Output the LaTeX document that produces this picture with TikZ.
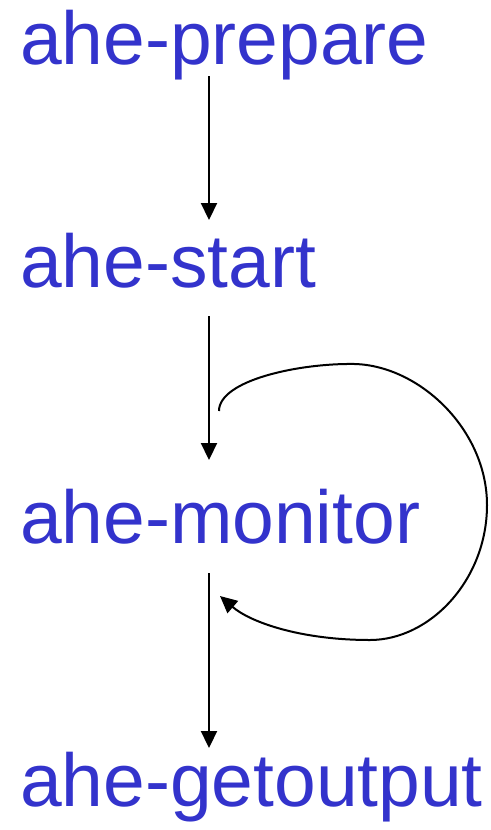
\documentclass[tikz,border=0pt]{standalone}
\usepackage{fontspec}
\setmainfont{Liberation Sans}
\usetikzlibrary{arrows.meta}
\definecolor{txtblue}{RGB}{51,51,204}
\begin{document}
\begin{tikzpicture}[x=1pt,y=-1pt,
  steptext/.style={anchor=base west,inner sep=0pt,outer sep=0pt,text=txtblue,font=\fontsize{75}{80}\selectfont},
  flowarrow/.style={line width=2.2pt,-{Triangle[length=17pt,width=16pt]}},
  looparrow/.style={line width=2pt,-{Triangle[length=17pt,width=16pt]}}]
\useasboundingbox (0,0) rectangle (490,830);
\node[steptext] (prep) at (20,64) {ahe-prepare};
\node[steptext] (start) at (20,287) {ahe-start};
\node[steptext] (mon) at (20,543) {ahe-monitor};
\node[steptext] (getout) at (20,806) {ahe-getoutput};
\coordinate (a1s) at (209,76);
\coordinate (a1e) at (209,220);
\coordinate (a2s) at (209,316);
\coordinate (a2e) at (209,460);
\coordinate (a3s) at (209,573);
\coordinate (a3e) at (209,748);
\coordinate (ls) at (219,411);
\coordinate (le) at (220,596);
\draw[flowarrow] (a1s) -- (a1e);
\draw[flowarrow] (a2s) -- (a2e);
\draw[flowarrow] (a3s) -- (a3e);
\draw[looparrow] (ls) .. controls (219,380) and (300,363) .. (355,364)
  .. controls (420,366) and (487,430) .. (487,505)
  .. controls (487,580) and (430,640) .. (370,640)
  .. controls (300,640) and (250,622) .. (le);
\end{tikzpicture}
\end{document}
